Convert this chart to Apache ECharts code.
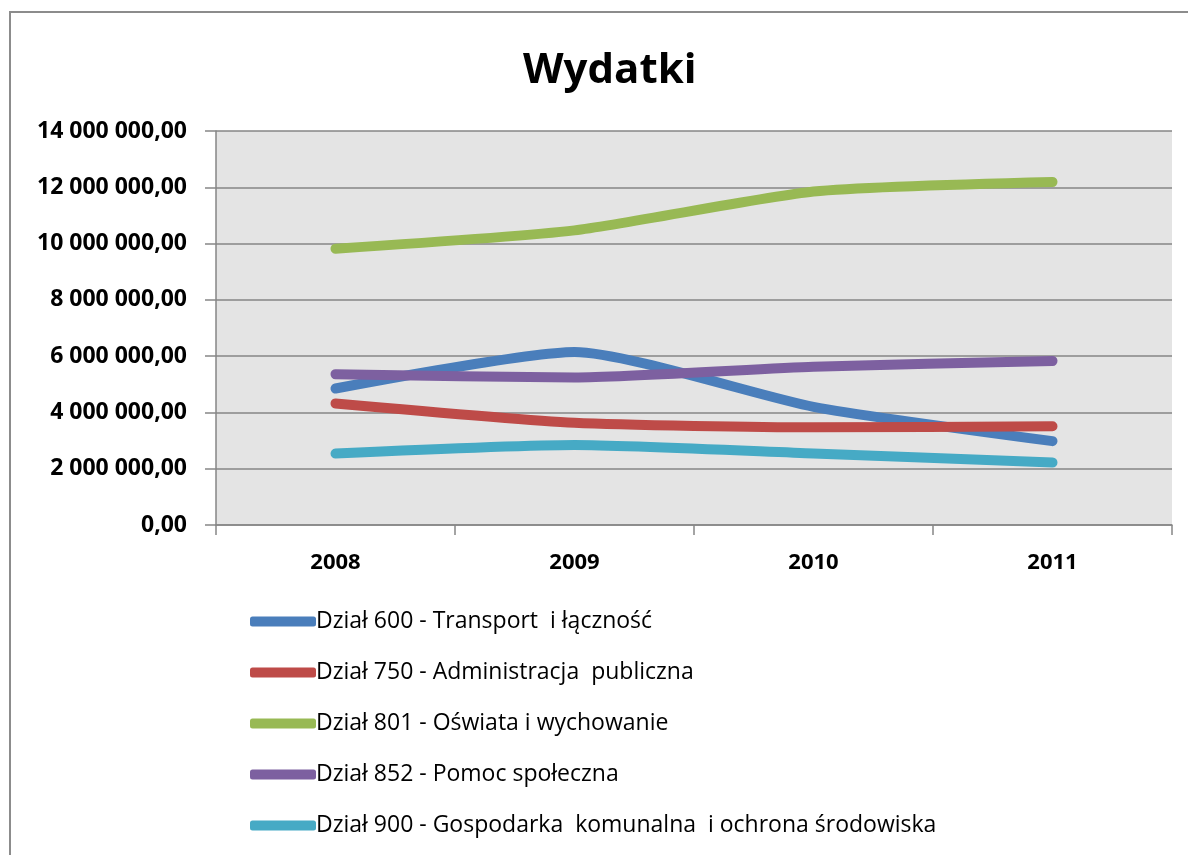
<html>
<head>
    <meta charset="utf-8">
    <title>Wydatki</title>
    <style>
        html, body, #main {
            padding: 0;
            margin: 0;
            width: 1188px;
            height: 855px;
            background: #fff;
        }
    </style>
    <script src="https://cdn.jsdelivr.net/npm/echarts@6/dist/echarts.min.js"></script>
</head>
<body>
    <div id="main"></div>
    <script>
        // data
        var years = ['2008', '2009', '2010', '2011'];
        var seriesNames = [
            'Dział 600 - Transport  i łączność',
            'Dział 750 - Administracja  publiczna',
            'Dział 801 - Oświata i wychowanie',
            'Dział 852 - Pomoc społeczna',
            'Dział 900 - Gospodarka  komunalna  i ochrona środowiska'
        ];
        var transport = [4850000, 6150000, 4200000, 2980000];
        var administracja = [4320000, 3630000, 3470000, 3510000];
        var oswiata = [9820000, 10470000, 11850000, 12190000];
        var pomoc = [5360000, 5240000, 5620000, 5830000];
        var gospodarka = [2540000, 2840000, 2540000, 2220000];
        var colors = ['#4a7ebb', '#be4b48', '#98b954', '#7d60a0', '#46aac5'];

        var allData = [transport, administracja, oswiata, pomoc, gospodarka];
        var font = '"Open Sans", "Noto Sans", sans-serif';

        function fmt(v) {
            return String(v).replace(/\B(?=(\d{3})+(?!\d))/g, ' ') + ',00';
        }

        var series = allData.map(function (d, i) {
            return {
                name: seriesNames[i],
                type: 'line',
                data: d,
                smooth: 0.2,
                symbol: 'none',
                lineStyle: { width: 10, color: colors[i], cap: 'round', join: 'round' },
                itemStyle: { color: colors[i] }
            };
        });

        var chart = echarts.init(document.getElementById('main'));
        chart.setOption({
            animation: false,
            title: {
                text: 'Wydatki',
                left: 518,
                top: 45,
                textStyle: { fontFamily: font, fontSize: 42, fontWeight: 'bold', color: '#000' }
            },
            graphic: [{
                type: 'rect',
                shape: { x: 10, y: 12, width: 1300, height: 1000 },
                style: { fill: 'none', stroke: '#8c8c8c', lineWidth: 2 }
            }],
            grid: {
                left: 216,
                right: 16,
                top: 131,
                bottom: 330,
                show: true,
                backgroundColor: '#e4e4e4',
                borderWidth: 0
            },
            legend: {
                orient: 'vertical',
                left: 245,
                top: 604,
                icon: 'roundRect',
                itemWidth: 66,
                itemHeight: 10,
                itemGap: 26,
                data: seriesNames,
                textStyle: { fontFamily: font, fontSize: 23, lineHeight: 25, color: '#000', padding: [0, 0, 0, -5] }
            },
            xAxis: {
                type: 'category',
                data: years,
                boundaryGap: true,
                axisLine: { lineStyle: { color: '#868686', width: 1.5 } },
                axisTick: { show: true, length: 10, lineStyle: { color: '#868686', width: 1.5 } },
                axisLabel: { margin: 27, fontFamily: font, fontSize: 22, fontWeight: 'bold', color: '#000' }
            },
            yAxis: {
                type: 'value',
                min: 0,
                max: 14000000,
                interval: 2000000,
                axisLine: { show: true, lineStyle: { color: '#868686', width: 1.5 } },
                axisTick: { show: true, length: 11, lineStyle: { color: '#868686', width: 1.5 } },
                splitLine: { show: true, lineStyle: { color: '#868686', width: 1.5 } },
                axisLabel: {
                    margin: 29,
                    fontFamily: font,
                    fontSize: 23,
                    fontWeight: 'bold',
                    color: '#000',
                    formatter: fmt
                }
            },
            series: series
        });
    </script>
</body>
</html>
